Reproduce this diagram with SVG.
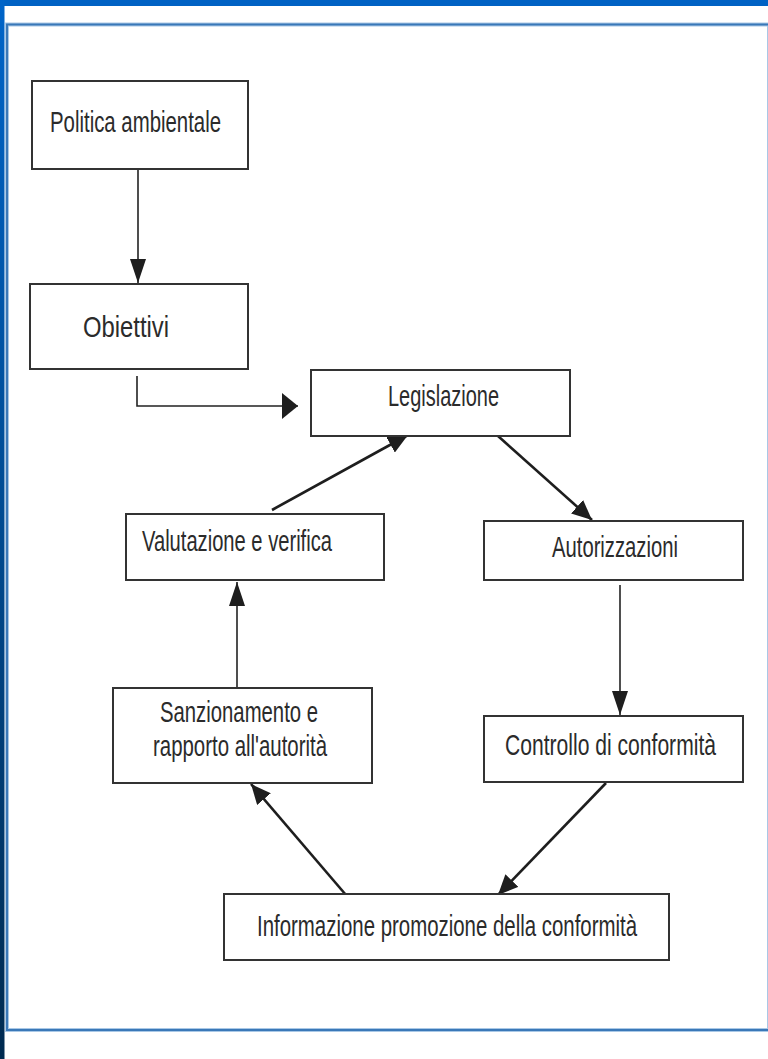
<svg xmlns="http://www.w3.org/2000/svg" width="768" height="1059" viewBox="0 0 768 1059">
<defs>
<linearGradient id="lb" x1="0" y1="0" x2="0" y2="1">
<stop offset="0" stop-color="#0064c8"/>
<stop offset="0.5" stop-color="#004a90"/>
<stop offset="1" stop-color="#002a50"/>
</linearGradient>
<marker id="ah" markerUnits="userSpaceOnUse" markerWidth="26" markerHeight="16" refX="24" refY="8" orient="auto">
<path d="M0,0 L24,8 L0,16 Z" fill="#1e1e1e"/>
</marker>
<marker id="ahw" markerUnits="userSpaceOnUse" markerWidth="18" markerHeight="26" refX="16" refY="13" orient="auto">
<path d="M0,0 L16,13 L0,26 Z" fill="#1e1e1e"/>
</marker>
<marker id="ahd" markerUnits="userSpaceOnUse" markerWidth="22" markerHeight="18" refX="20" refY="9" orient="auto">
<path d="M0,0 L20,9 L0,18 Z" fill="#1e1e1e"/>
</marker>
</defs>
<style>
.box{fill:#ffffff;stroke:#333333;stroke-width:2}
.t{font-family:"Liberation Sans",Arial,sans-serif;font-size:29px;fill:#2b2b2b}
.ln{fill:none;stroke:#222222;stroke-width:1.6}
.dg{fill:none;stroke:#1e1e1e;stroke-width:2.6}
</style>
<rect x="0" y="0" width="768" height="1059" fill="#ffffff"/>
<rect x="0" y="0" width="768" height="6" fill="#0062c4"/>
<rect x="0" y="0" width="4.5" height="1059" fill="url(#lb)"/>
<rect x="7" y="24.5" width="762" height="1005.5" fill="none" stroke="#a9c8e6" stroke-width="4"/>
<rect x="7" y="24.5" width="762" height="1005.5" fill="none" stroke="#3a78b8" stroke-width="2"/>

<g id="connectors">
<path class="ln" d="M138,169 L138,283" marker-end="url(#ah)"/>
<path class="ln" d="M137,376 L137,406 L298,406" marker-end="url(#ahw)"/>
<path class="dg" d="M272,510 L408,435" marker-end="url(#ahd)"/>
<path class="dg" d="M498,436 L592,520" marker-end="url(#ahd)"/>
<path class="ln" d="M620,585 L620,715" marker-end="url(#ah)"/>
<path class="dg" d="M606,783 L498,895" marker-end="url(#ahd)"/>
<path class="dg" d="M346,895 L251,784" marker-end="url(#ahd)"/>
<path class="ln" d="M237,687 L237,582" marker-end="url(#ah)"/>
</g>

<g id="n1"><rect class="box" x="32" y="81" width="216" height="88"/>
<text class="t" transform="translate(50,132) scale(0.7,1)" textLength="244.3" lengthAdjust="spacingAndGlyphs">Politica ambientale</text></g>
<g id="n2"><rect class="box" x="30" y="284" width="218" height="85"/>
<text class="t" transform="translate(83,337) scale(0.7,1)" textLength="122.9" lengthAdjust="spacingAndGlyphs">Obiettivi</text></g>
<g id="n3"><rect class="box" x="311" y="370" width="259" height="66"/>
<text class="t" transform="translate(388,406) scale(0.7,1)" textLength="158.6" lengthAdjust="spacingAndGlyphs">Legislazione</text></g>
<g id="n4"><rect class="box" x="126" y="514" width="258" height="66"/>
<text class="t" transform="translate(142,551) scale(0.7,1)" textLength="271.4" lengthAdjust="spacingAndGlyphs">Valutazione e verifica</text></g>
<g id="n5"><rect class="box" x="484" y="521" width="259" height="59"/>
<text class="t" transform="translate(552,557) scale(0.7,1)" textLength="180" lengthAdjust="spacingAndGlyphs">Autorizzazioni</text></g>
<g id="n6"><rect class="box" x="113" y="688" width="259" height="95"/>
<text class="t" transform="translate(160,722) scale(0.7,1)" textLength="225.7" lengthAdjust="spacingAndGlyphs">Sanzionamento e</text>
<text class="t" transform="translate(153,755.5) scale(0.7,1)" textLength="248.6" lengthAdjust="spacingAndGlyphs">rapporto all'autorità</text></g>
<g id="n7"><rect class="box" x="484" y="716" width="259" height="66"/>
<text class="t" transform="translate(505,755) scale(0.7,1)" textLength="301.4" lengthAdjust="spacingAndGlyphs">Controllo di conformità</text></g>
<g id="n8"><rect class="box" x="224" y="894" width="445" height="66"/>
<text class="t" transform="translate(257,936) scale(0.7,1)" textLength="542.9" lengthAdjust="spacingAndGlyphs">Informazione promozione della conformità</text></g>
</svg>
